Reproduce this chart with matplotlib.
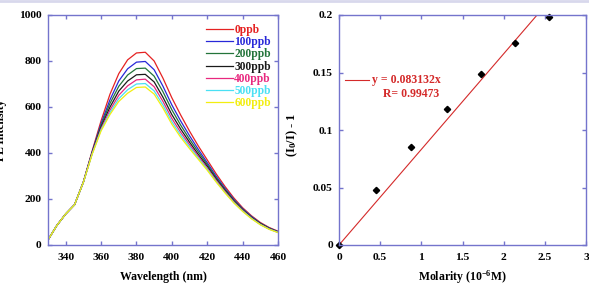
import matplotlib
matplotlib.use("Agg")
import matplotlib.pyplot as plt
from matplotlib.lines import Line2D

plt.rcParams['font.family'] = ['Liberation Serif', 'DejaVu Serif']
plt.rcParams['font.weight'] = 'bold'
plt.rcParams['mathtext.fontset'] = 'custom'
plt.rcParams['mathtext.rm'] = 'Liberation Serif:bold'
plt.rcParams['mathtext.it'] = 'Liberation Serif:bold'
plt.rcParams['mathtext.bf'] = 'Liberation Serif:bold'

# ---------------- data ----------------
wavelength = [330, 335, 340, 345, 350, 355, 360, 365, 370, 375, 380, 385, 390,
              395, 400, 405, 410, 415, 420, 425, 430, 435, 440, 445, 450, 455, 460]

pl_0ppb = [22, 85, 135, 175, 275, 410, 540, 655, 745, 805, 835, 838, 800,
           725, 640, 565, 495, 430, 370, 310, 255, 205, 162, 127, 98, 76, 60]
pl_100ppb = [22, 85, 135, 175, 274, 406, 528, 631, 713, 766, 795, 798, 762,
             690, 609, 539, 475, 415, 358, 300, 247, 199, 158, 124, 95, 74, 58]
pl_200ppb = [22, 85, 135, 175, 274, 403, 520, 615, 690, 739, 767, 769, 734,
             666, 588, 521, 460, 404, 350, 293, 242, 195, 155, 121, 94, 73, 57]
pl_300ppb = [22, 85, 135, 175, 273, 401, 512, 599, 669, 713, 740, 742, 709,
             642, 567, 504, 447, 393, 342, 287, 237, 191, 152, 119, 92, 71, 56]
pl_400ppb = [22, 85, 135, 175, 273, 399, 506, 586, 651, 692, 718, 721, 688,
             624, 550, 490, 436, 385, 335, 282, 233, 188, 150, 117, 90, 70, 55]
pl_500ppb = [22, 85, 135, 175, 273, 397, 501, 575, 636, 675, 700, 702, 670,
             608, 536, 478, 427, 378, 330, 277, 229, 185, 148, 116, 89, 69, 55]
pl_600ppb = [22, 85, 135, 175, 273, 395, 496, 567, 624, 660, 685, 687, 656,
             595, 525, 468, 419, 372, 325, 274, 227, 183, 146, 114, 88, 68, 54]

series_labels = ['0ppb', '100ppb', '200ppb', '300ppb', '400ppb', '500ppb', '600ppb']
series_values = [pl_0ppb, pl_100ppb, pl_200ppb, pl_300ppb, pl_400ppb, pl_500ppb, pl_600ppb]
series_colors = ['#e52222', '#2828d8', '#23743a', '#1a1a1a', '#e8287f', '#4ae0f4', '#f2ee10']

molarity = [0, 0.45, 0.88, 1.31, 1.73, 2.14, 2.55]
quench = [0, 0.048, 0.085, 0.118, 0.149, 0.176, 0.198]
fit_slope = 0.083132
fit_x = [0, 3]

spine_color = '#7474cc'

W, H = 589, 285
fig = plt.figure(figsize=(W / 100, H / 100), dpi=100)

def px_axes(l, t, r, b):
    return fig.add_axes([l / W, 1 - b / H, (r - l) / W, (b - t) / H])

def style(ax):
    for s in ax.spines.values():
        s.set_color(spine_color)
        s.set_linewidth(1.0)
    ax.tick_params(direction='in', length=3, width=1.0, color=spine_color,
                   top=True, right=True, labelsize=8.2)
    ax.tick_params(axis='x', pad=5.5)
    ax.tick_params(axis='y', pad=4.5)
    for lab in ax.get_xticklabels() + ax.get_yticklabels():
        lab.set_fontweight('bold')

# ---------------- left panel ----------------
ax1 = px_axes(48, 15, 278, 245)
for vals, col, lab in zip(series_values, series_colors, series_labels):
    ax1.plot(wavelength, vals, color=col, lw=0.9, label=lab)
ax1.set_xlim(330, 460)
ax1.set_ylim(0, 1000)
ax1.set_xticks([340, 360, 380, 400, 420, 440, 460])
ax1.set_yticks([0, 200, 400, 600, 800, 1000])
style(ax1)
ax1.set_xlabel('Wavelength (nm)', fontsize=8.5, fontweight='bold', labelpad=7)
leg = ax1.legend(loc='upper left', bbox_to_anchor=(206 / W, 1 - 24 / H),
                 bbox_transform=fig.transFigure, frameon=False,
                 handlelength=2.3, handletextpad=0.15, labelspacing=0.02,
                 borderpad=0, borderaxespad=0,
                 prop={'family': 'Liberation Serif', 'weight': 'bold', 'size': 8.3})
for txt, col in zip(leg.get_texts(), series_colors):
    txt.set_color(col)

fig.text(1 / W, 1 - 130 / H, 'PL Intensity', rotation=90, ha='center', va='center',
         fontsize=8.5, fontweight='bold')

# ---------------- right panel ----------------
ax2 = px_axes(339, 15, 586, 245)
ax2.plot(fit_x, [fit_slope * x for x in fit_x], color='#d42a2a', lw=0.8)
ax2.plot(molarity, quench, linestyle='none', marker='D', markersize=3.2,
         color='black', clip_on=False)
ax2.set_xlim(0, 3)
ax2.set_ylim(0, 0.2)
ax2.set_xticks([0, 0.5, 1, 1.5, 2, 2.5, 3])
ax2.set_xticklabels(['0', '0.5', '1', '1.5', '2', '2.5', '3'])
ax2.set_yticks([0, 0.05, 0.1, 0.15, 0.2])
ax2.set_yticklabels(['0', '0.05', '0.1', '0.15', '0.2'])
style(ax2)
ax2.set_xlabel(r'Molarity (10$^{-6}$M)', fontsize=8.5, fontweight='bold', labelpad=5)

fig.add_artist(Line2D([345 / W, 369 / W], [1 - 80 / H, 1 - 80 / H],
                      color='#d42a2a', lw=0.8))
fig.text(372 / W, 1 - 80 / H, 'y = 0.083132x', color='#d42a2a', fontsize=8.5,
         fontweight='bold', ha='left', va='center')
fig.text(411 / W, 1 - 94 / H, 'R= 0.99473', color='#d42a2a', fontsize=8.5,
         fontweight='bold', ha='center', va='center')

fig.text(292 / W, 1 - 135 / H, r'(I$_0$/I) - 1', rotation=90, ha='center', va='center',
         fontsize=9, fontweight='bold')

# light frame line along top
fig.add_artist(Line2D([0, 1], [1 - 1 / H, 1 - 1 / H], color='#d8d8ec', lw=2))

fig.savefig('out.png', dpi=100)
